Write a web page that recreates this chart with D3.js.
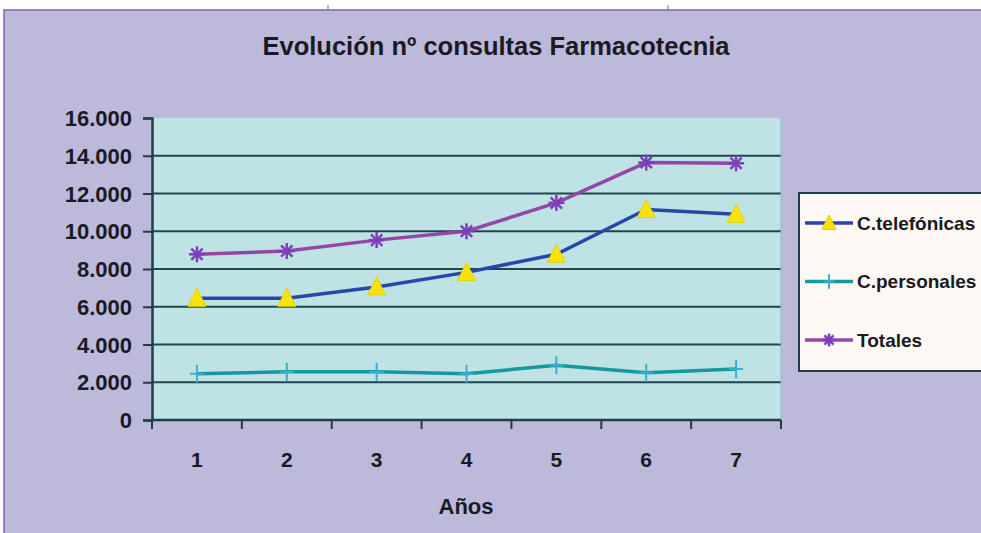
<!DOCTYPE html>
<html>
<head>
<meta charset="utf-8">
<script src="https://cdn.jsdelivr.net/npm/d3@7"></script>
<style>
  body { margin: 0; background: #fff; }
  text { font-family: "Liberation Sans", Arial, sans-serif; fill: #1a1a22; }
</style>
</head>
<body>
<svg id="chart" width="981" height="533"></svg>
<script>
const years = ["1", "2", "3", "4", "5", "6", "7"];
const telefonicas = [6450, 6450, 7050, 7820, 8780, 11150, 10900];
const personales = [2450, 2550, 2550, 2450, 2900, 2500, 2700];
const totales = [8780, 8950, 9530, 10000, 11500, 13640, 13600];
const yTicks = [0, 2000, 4000, 6000, 8000, 10000, 12000, 14000, 16000];

const series = [
  { name: "C.telefónicas", values: telefonicas, color: "#2747ab", marker: "triangle" },
  { name: "C.personales", values: personales, color: "#16999c", marker: "plus" },
  { name: "Totales", values: totales, color: "#9547a8", marker: "star" },
];

const svg = d3.select("#chart");
const margin = { left: 152, right: 200, top: 118, bottom: 113 };
const width = 981, height = 533;

// chart frame
svg.append("rect").attr("x", 4).attr("y", 10).attr("width", 990).attr("height", 540)
  .attr("fill", "#bcb9da").attr("stroke", "#8a5cb2").attr("stroke-width", 1.5);
[328, 668].forEach((x) => {
  svg.append("line").attr("x1", x).attr("x2", x).attr("y1", 5).attr("y2", 10)
    .attr("stroke", "#777").attr("stroke-width", 1);
});

const x = d3.scaleBand().domain(years).range([margin.left, width - margin.right]);
const y = d3.scaleLinear().domain([0, 16000]).range([height - margin.bottom, margin.top]);
const fmt = (v) => d3.format(",")(v).replace(/,/g, ".");

// plot area
svg.append("rect")
  .attr("x", margin.left).attr("y", margin.top)
  .attr("width", x.range()[1] - margin.left)
  .attr("height", y(0) - margin.top)
  .attr("fill", "#bfe3e4");

svg.append("g").selectAll("line").data(yTicks.filter((d) => d > 0 && d < 16000)).enter()
  .append("line")
  .attr("x1", margin.left).attr("x2", x.range()[1])
  .attr("y1", (d) => y(d)).attr("y2", (d) => y(d))
  .attr("stroke", "#1f464c").attr("stroke-width", 2);

// right border of plot area
svg.append("line").attr("x1", x.range()[1]).attr("x2", x.range()[1])
  .attr("y1", margin.top).attr("y2", y(0)).attr("stroke", "#8fb8c8").attr("stroke-width", 1);

// y axis
const yAxis = svg.append("g").attr("transform", `translate(${margin.left},0)`)
  .call(d3.axisLeft(y).tickValues(yTicks).tickFormat(fmt).tickSize(9).tickPadding(11));
yAxis.select(".domain").attr("stroke", "#1f3f44").attr("stroke-width", 2.5);
yAxis.selectAll(".tick line").attr("stroke", "#1f3f44").attr("stroke-width", 2);
yAxis.selectAll(".tick text").style("font-size", "22px").style("font-weight", "bold")
  .attr("fill", "#1a1a22").attr("dy", "0.35em");

// x axis with ticks between categories
const xAxis = svg.append("g").attr("transform", `translate(0,${y(0)})`);
xAxis.append("line").attr("x1", margin.left).attr("x2", x.range()[1])
  .attr("stroke", "#1f3f44").attr("stroke-width", 2.5);
const bounds = years.map((d) => x(d)).concat([x.range()[1]]);
xAxis.selectAll(".bt").data(bounds).enter().append("line")
  .attr("x1", (d) => d).attr("x2", (d) => d).attr("y1", 0).attr("y2", 9)
  .attr("stroke", "#1f3f44").attr("stroke-width", 2);
xAxis.selectAll(".lbl").data(years).enter().append("text")
  .attr("x", (d) => x(d) + x.bandwidth() / 2).attr("y", 47)
  .attr("text-anchor", "middle")
  .style("font-size", "21px").style("font-weight", "bold").text((d) => d);

svg.append("text").attr("x", 466).attr("y", 514).attr("text-anchor", "middle")
  .style("font-size", "22px").style("font-weight", "bold").text("Años");

svg.append("text").attr("x", 496).attr("y", 55).attr("text-anchor", "middle")
  .style("font-size", "25.5px").style("font-weight", "bold")
  .text("Evolución nº consultas Farmacotecnia");

const cx = (i) => x(years[i]) + x.bandwidth() / 2;
const line = d3.line().x((d, i) => cx(i)).y((d) => y(d));

function drawMarker(g, type, px, py, s = 1) {
  if (type === "triangle") {
    g.append("path").attr("d", `M${px},${py - 10 * s}L${px + 9 * s},${py + 8 * s}L${px - 9 * s},${py + 8 * s}Z`)
      .attr("fill", "#f7e30a").attr("stroke", "#e8d200").attr("stroke-width", 1);
  } else if (type === "plus") {
    g.append("line").attr("x1", px).attr("x2", px).attr("y1", py - 9 * s).attr("y2", py + 9 * s)
      .attr("stroke", "#3aaed0").attr("stroke-width", 2);
    g.append("line").attr("x1", px - 7 * s).attr("x2", px + 7 * s).attr("y1", py).attr("y2", py)
      .attr("stroke", "#3aaed0").attr("stroke-width", 2);
  } else {
    const r = 8 * s;
    [0, 45, 90, 135].forEach((a) => {
      const rad = (a * Math.PI) / 180;
      g.append("line")
        .attr("x1", px - r * Math.cos(rad)).attr("x2", px + r * Math.cos(rad))
        .attr("y1", py - r * Math.sin(rad)).attr("y2", py + r * Math.sin(rad))
        .attr("stroke", "#7d3fb8").attr("stroke-width", 2.5);
    });
  }
}

series.forEach((s) => {
  svg.append("path").datum(s.values).attr("d", line)
    .attr("fill", "none").attr("stroke", s.color).attr("stroke-width", 3.5);
  const g = svg.append("g");
  s.values.forEach((v, i) => drawMarker(g, s.marker, cx(i), y(v)));
});

// legend
const lg = svg.append("g");
lg.append("rect").attr("x", 799).attr("y", 193).attr("width", 200).attr("height", 178)
  .attr("fill", "#fdf8f4").attr("stroke", "#1f3f44").attr("stroke-width", 2);
series.forEach((s, i) => {
  const ly = 223 + i * 58.5;
  lg.append("line").attr("x1", 805).attr("x2", 853).attr("y1", ly).attr("y2", ly)
    .attr("stroke", s.color).attr("stroke-width", 3.5);
  drawMarker(lg, s.marker, 829, ly, 0.8);
  lg.append("text").attr("x", 857).attr("y", ly).attr("dy", "0.35em")
    .style("font-size", "19px").style("font-weight", "bold").text(s.name);
});
</script>
</body>
</html>
